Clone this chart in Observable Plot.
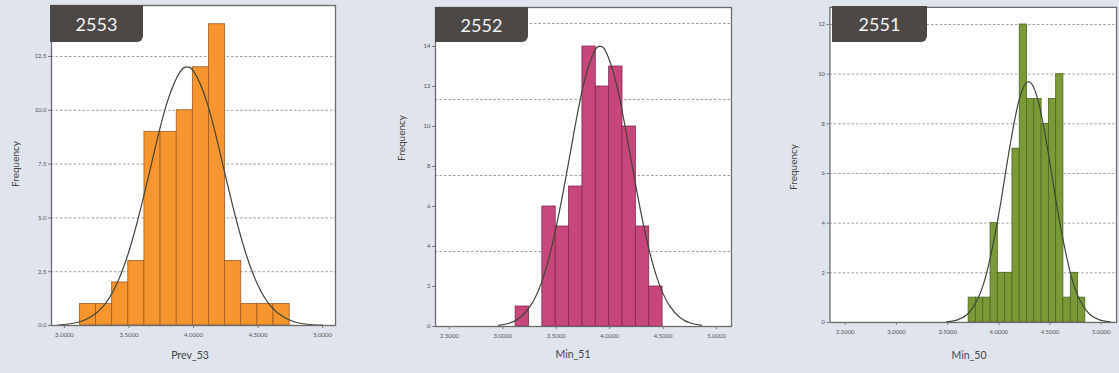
<!DOCTYPE html>
<html>
<head>
<meta charset="utf-8">
<script src="https://cdn.jsdelivr.net/npm/d3@7"></script>
<script src="https://cdn.jsdelivr.net/npm/@observablehq/plot@0.6"></script>
<style>
  html, body { margin: 0; padding: 0; background: #dfe4ed; }
  #wrap { position: relative; width: 1119px; height: 373px; overflow: hidden; background: #dfe4ed; font-family: Lato, "DejaVu Sans", sans-serif; }
  .panel { position: absolute; top: 0; }
  .title { position: absolute; background: #4b4846; color: #f4f4f4; font-size: 18px; display: flex; align-items: center; justify-content: center; border-bottom-right-radius: 6px; }
  .ylab { position: absolute; font-size: 10px; color: #444; transform: translate(-50%, -50%) rotate(-90deg); white-space: nowrap; }
  .xlab { position: absolute; font-size: 10.5px; color: #444; transform: translate(-50%, -50%); white-space: nowrap; }
</style>
</head>
<body>
<div id="wrap"></div>
<script>
// ---- data ----
const titles = ["2553", "2552", "2551"];
const xLabels = ["Prev_53", "Min_51", "Min_50"];
const yLabel = "Frequency";

// panel 1 (2553)
const edges1 = [3.12, 3.245, 3.37, 3.495, 3.62, 3.745, 3.87, 3.995, 4.12, 4.245, 4.37, 4.495, 4.62, 4.745];
const counts1 = [1, 1, 2, 3, 9, 9, 10, 12, 14, 3, 1, 1, 1];
const curveX1 = [2.95, 3.0, 3.1, 3.2, 3.3, 3.4, 3.5, 3.6, 3.7, 3.8, 3.9, 3.95, 4.0, 4.1, 4.2, 4.3, 4.4, 4.5, 4.6, 4.7, 4.8, 4.9, 5.0];
const curveY1 = [0.017, 0.046, 0.14, 0.38, 0.89, 1.86, 3.45, 5.65, 8.17, 10.45, 11.82, 12, 11.82, 10.45, 8.17, 5.65, 3.45, 1.86, 0.89, 0.38, 0.14, 0.046, 0.014];
const yTicks1 = [0, 2.5, 5, 7.5, 10, 12.5];
const grid1 = [2.5, 5, 7.5, 10, 12.5];
const xTicks1 = [3.0, 3.5, 4.0, 4.5, 5.0];

// panel 2 (2552)
const edges2 = [3.12, 3.245, 3.37, 3.495, 3.62, 3.745, 3.87, 3.995, 4.12, 4.245, 4.37, 4.495];
const counts2 = [1, 0, 6, 5, 7, 14, 12, 13, 10, 5, 2];
const curveX2 = [2.96, 3.06, 3.16, 3.26, 3.36, 3.46, 3.56, 3.66, 3.76, 3.86, 3.91, 3.96, 4.06, 4.16, 4.26, 4.36, 4.46, 4.56, 4.66, 4.76, 4.86];
const curveY2 = [0.054, 0.16, 0.44, 1.04, 2.17, 4.03, 6.59, 9.53, 12.19, 13.79, 14, 13.79, 12.19, 9.53, 6.59, 4.03, 2.17, 1.04, 0.44, 0.16, 0.054];
const yTicks2 = [0, 2, 4, 6, 8, 10, 12, 14];
const grid2 = [3.75, 7.55, 11.35, 15.15];
const xTicks2 = [2.5, 3.0, 3.5, 4.0, 4.5, 5.0];

// panel 3 (2551)
const edges3 = [3.705, 3.776, 3.848, 3.919, 3.990, 4.061, 4.133, 4.204, 4.275, 4.346, 4.418, 4.489, 4.560, 4.631, 4.703, 4.774, 4.845];
const counts3 = [1, 1, 1, 4, 2, 2, 7, 12, 9, 9, 8, 9, 10, 1, 2, 1];
const curveX3 = [3.49, 3.59, 3.69, 3.79, 3.89, 3.99, 4.04, 4.09, 4.14, 4.19, 4.24, 4.29, 4.34, 4.39, 4.44, 4.49, 4.54, 4.59, 4.69, 4.79, 4.89, 4.99, 5.09];
const curveY3 = [0.023, 0.095, 0.32, 0.91, 2.14, 4.14, 5.37, 6.65, 7.84, 8.83, 9.47, 9.7, 9.47, 8.83, 7.84, 6.65, 5.37, 4.14, 2.14, 0.91, 0.32, 0.095, 0.023];
const yTicks3 = [0, 2, 4, 6, 8, 10, 12];
const grid3 = [2, 4, 6, 8, 10, 12];
const xTicks3 = [2.5, 3.0, 3.5, 4.0, 4.5, 5.0];

const fills = ["#f7952f", "#c8467c", "#7a9a37"];
const strokes = ["#9b5d26", "#7e2a52", "#4c6623"];

// ---- layout ----
const panels = [
  { left: 0, width: 373, mL: 51, mR: 38, mT: 5, mB: 48, xDom: [2.9, 5.1], yDom: [0, 14.87],
    edges: edges1, counts: counts1, cx: curveX1, cy: curveY1, yTicks: yTicks1, grid: grid1, xTicks: xTicks1, yFmt: d3.format(".1f"),
    box: [50, 5, 93, 37], ylab: [15, 164], xlab: [190, 355] },
  { left: 373, width: 373, mL: 62, mR: 15, mT: 7, mB: 47, xDom: [2.37, 5.14], yDom: [0, 15.95],
    edges: edges2, counts: counts2, cx: curveX2, cy: curveY2, yTicks: yTicks2, grid: grid2, xTicks: xTicks2, yFmt: d3.format("d"),
    box: [435, 7, 93, 35], ylab: [401, 138], xlab: [573, 354] },
  { left: 746, width: 380, mL: 85, mR: 3, mT: 7, mB: 45, xDom: [2.35, 5.15], yDom: [0, 12.69],
    edges: edges3, counts: counts3, cx: curveX3, cy: curveY3, yTicks: yTicks3, grid: grid3, xTicks: xTicks3, yFmt: d3.format("d"),
    box: [832, 6, 95, 36], ylab: [793, 167], xlab: [969, 355] }
];

const wrap = document.getElementById("wrap");

panels.forEach((p, i) => {
  const bins = p.counts.map((c, k) => ({ x1: p.edges[k], x2: p.edges[k + 1], y: c }));
  const curve = p.cx.map((x, k) => ({ x, y: p.cy[k] }));
  const chart = Plot.plot({
    width: p.width, height: 373,
    marginLeft: p.mL, marginRight: p.mR, marginTop: p.mT, marginBottom: p.mB,
    style: { background: "transparent", fontFamily: "Lato, 'DejaVu Sans', sans-serif", color: "#555" },
    x: { domain: p.xDom },
    y: { domain: p.yDom },
    marks: [
      Plot.frame({ fill: "white", stroke: "none" }),
      Plot.gridY(p.grid, { stroke: "#7a7a7a", strokeOpacity: 0.9, strokeWidth: 0.8, strokeDasharray: "2.5,2" }),
      Plot.rectY(bins.filter(d => d.y > 0), { x1: "x1", x2: "x2", y: "y", fill: fills[i], stroke: strokes[i], strokeWidth: 0.8, inset: 0 }),
      Plot.line(curve, { x: "x", y: "y", stroke: "#3e4636", strokeWidth: 1.2, curve: "natural" }),
      Plot.frame({ stroke: "#6a6a6a", strokeWidth: 1.3 }),
      Plot.axisY({ ticks: p.yTicks, tickFormat: p.yFmt, tickSize: 3, tickPadding: 2, fontSize: 6, label: null, stroke: "#777" }),
      Plot.axisX({ ticks: p.xTicks, tickFormat: d3.format(".4f"), tickSize: 3, tickPadding: 4, fontSize: 6, label: null, stroke: "#777" })
    ]
  });
  const div = document.createElement("div");
  div.className = "panel";
  div.style.left = p.left + "px";
  div.appendChild(chart);
  wrap.appendChild(div);

  const t = document.createElement("div");
  t.className = "title";
  t.textContent = titles[i];
  t.style.left = p.box[0] + "px"; t.style.top = p.box[1] + "px";
  t.style.width = p.box[2] + "px"; t.style.height = p.box[3] + "px";
  wrap.appendChild(t);

  const yl = document.createElement("div");
  yl.className = "ylab"; yl.textContent = yLabel;
  yl.style.left = p.ylab[0] + "px"; yl.style.top = p.ylab[1] + "px";
  wrap.appendChild(yl);

  const xl = document.createElement("div");
  xl.className = "xlab"; xl.textContent = xLabels[i];
  xl.style.left = p.xlab[0] + "px"; xl.style.top = p.xlab[1] + "px";
  wrap.appendChild(xl);
});
</script>
</body>
</html>
